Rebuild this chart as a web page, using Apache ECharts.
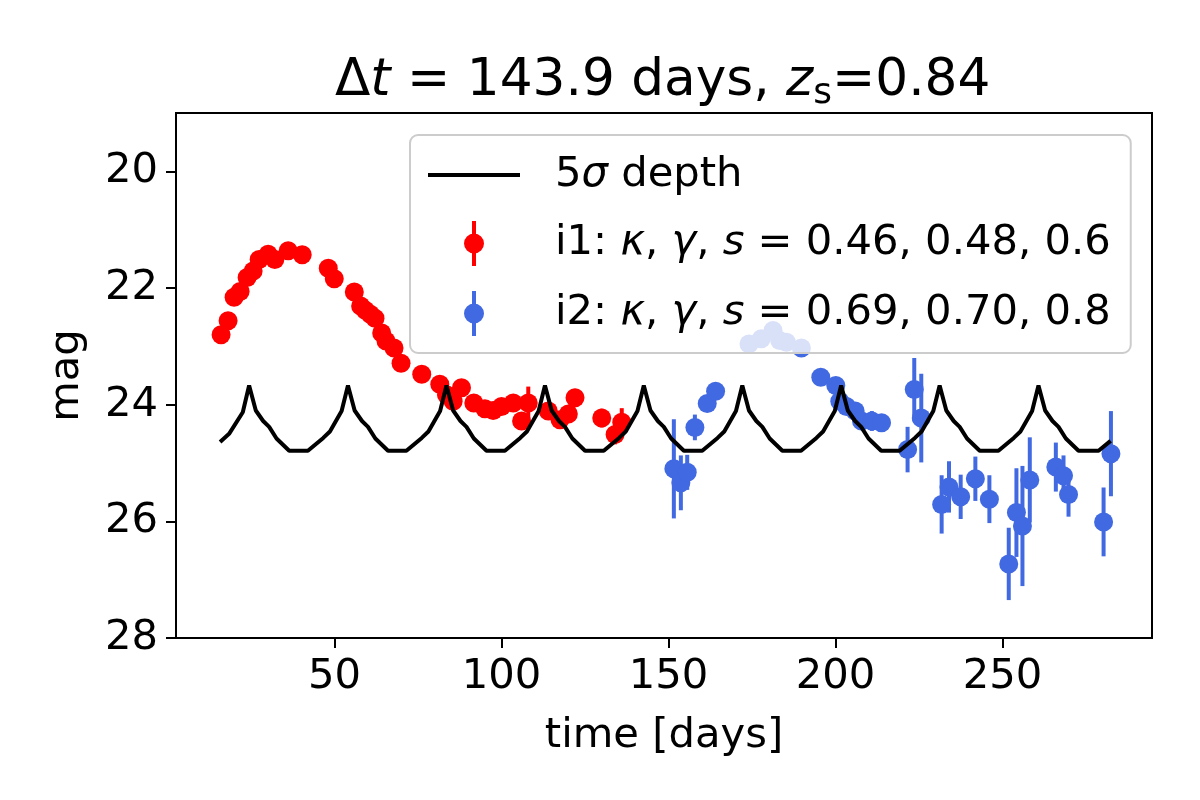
<!DOCTYPE html>
<html>
<head>
<meta charset="utf-8">
<script src="https://cdn.jsdelivr.net/npm/echarts@6/dist/echarts.min.js"></script>
<style>
  html, body { margin: 0; padding: 0; background: #fff; }
  #main { width: 1200px; height: 800px; }
</style>
</head>
<body>
<div id="main"></div>
<script>
// image 1 (red)
var t1 = [16.0, 18.1, 19.9, 21.7, 23.8, 25.6, 27.4, 30.1, 32.1, 36.1, 40.3, 48.1, 49.9,
  55.9, 57.8, 59.2, 60.7, 62.1, 64.1, 65.4, 67.8, 69.9, 76.1, 81.5, 83.5, 85.5, 88.0,
  91.7, 95.0, 97.5, 100.0, 103.5, 106.0, 108.0, 114.0, 117.5, 120.0, 122.0, 130.0, 134.0, 136.0];
var mag1 = [22.80, 22.56, 22.16, 22.06, 21.82, 21.71, 21.51, 21.42, 21.51, 21.36, 21.43, 21.66, 21.84,
  22.07, 22.31, 22.38, 22.45, 22.52, 22.77, 22.91, 23.03, 23.29, 23.48, 23.65, 23.83, 23.94, 23.71,
  23.97, 24.07, 24.10, 24.03, 23.97, 24.28, 23.97, 24.11, 24.26, 24.16, 23.88, 24.23, 24.51, 24.30];
var err1 = [0.03, 0.03, 0.03, 0.03, 0.03, 0.03, 0.03, 0.03, 0.03, 0.03, 0.03, 0.04, 0.04,
  0.05, 0.05, 0.05, 0.05, 0.05, 0.06, 0.06, 0.06, 0.07, 0.07, 0.08, 0.08, 0.09, 0.09,
  0.10, 0.10, 0.11, 0.11, 0.12, 0.13, 0.28, 0.14, 0.15, 0.15, 0.15, 0.16, 0.17, 0.24];

// image 2 (blue)
var t2 = [151.6, 153.7, 155.6, 157.9, 161.6, 164.1, 174.1, 177.8, 181.3, 183.3, 185.3, 189.8,
  195.6, 200.1, 201.3, 203.3, 205.9, 207.8, 210.9, 213.8, 221.6, 223.6, 225.7, 231.8, 234.0,
  237.5, 241.9, 246.1, 251.9, 254.2, 256.0, 258.2, 266.0, 268.3, 269.8, 280.3, 282.5];
var mag2 = [25.10, 25.34, 25.16, 24.39, 23.98, 23.77, 22.96, 22.87, 22.73, 22.90, 22.93, 23.03,
  23.53, 23.67, 23.94, 24.03, 24.11, 24.28, 24.28, 24.31, 24.77, 23.74, 24.23, 25.71, 25.41,
  25.58, 25.27, 25.62, 26.73, 25.85, 26.08, 25.29, 25.07, 25.22, 25.54, 26.01, 24.84];
var err2 = [0.85, 0.47, 0.30, 0.22, 0.08, 0.08, 0.05, 0.05, 0.05, 0.05, 0.05, 0.06,
  0.07, 0.08, 0.08, 0.09, 0.10, 0.11, 0.17, 0.12, 0.39, 0.54, 0.76, 0.50, 0.44,
  0.38, 0.38, 0.41, 0.62, 0.76, 1.03, 0.73, 0.42, 0.35, 0.38, 0.59, 0.73];

// 5 sigma depth
var depthT = [15.7, 18.4, 22.5,
  24.4, 26.4, 28.6, 30.4, 32.6, 36.4, 42.0, 46.6, 48.6, 52.1,
  54.0, 56.0, 58.2, 60.0, 62.2, 66.0, 71.5, 76.1, 78.1, 81.6,
  83.5, 85.5, 87.7, 89.5, 91.7, 95.5, 101.0, 105.6, 107.6, 111.1,
  113.0, 115.0, 117.2, 119.0, 121.2, 125.0, 130.6, 135.2, 137.2, 140.7,
  142.6, 144.6, 146.8, 148.6, 150.8, 154.6, 160.1, 164.7, 166.7, 170.2,
  172.1, 174.1, 176.3, 178.1, 180.3, 184.1, 189.7, 194.3, 196.3, 199.8,
  201.7, 203.7, 205.9, 207.7, 209.9, 213.7, 219.2, 223.8, 225.8, 229.3,
  231.2, 233.2, 235.4, 237.2, 239.4, 243.2, 248.8, 253.4, 255.4, 258.9,
  260.8, 262.8, 265.0, 266.8, 269.0, 272.8, 278.8, 282.4];
var depthMag = [24.64, 24.50, 24.13,
  23.67, 24.10, 24.28, 24.38, 24.58, 24.79, 24.79, 24.57, 24.46, 24.11,
  23.67, 24.10, 24.28, 24.38, 24.58, 24.79, 24.79, 24.57, 24.46, 24.11,
  23.67, 24.10, 24.28, 24.38, 24.58, 24.79, 24.79, 24.57, 24.46, 24.11,
  23.67, 24.10, 24.28, 24.38, 24.58, 24.79, 24.79, 24.57, 24.46, 24.11,
  23.67, 24.10, 24.28, 24.38, 24.58, 24.79, 24.79, 24.57, 24.46, 24.11,
  23.67, 24.10, 24.28, 24.38, 24.58, 24.79, 24.79, 24.57, 24.46, 24.11,
  23.67, 24.10, 24.28, 24.38, 24.58, 24.79, 24.79, 24.57, 24.46, 24.11,
  23.67, 24.10, 24.28, 24.38, 24.58, 24.79, 24.79, 24.57, 24.46, 24.11,
  23.67, 24.10, 24.28, 24.38, 24.58, 24.79, 24.79, 24.62];

var xTicks = [50, 100, 150, 200, 250];
var yTicks = [20, 22, 24, 26, 28];

var FONT = "DejaVu Sans";
var FS = 41.7;
var TFS = 51.7;
var RED = "#ff0000";
var BLUE = "#4169e1";
var errIcon = "path://M8,0H12V45H8Z M0,22.5A10,10 0 1,1 20,22.5A10,10 0 1,1 0,22.5Z";

function pairs(t, m) {
  return t.map(function (v, i) { return [v, m[i]]; });
}
function bars(t, m, e) {
  return t.map(function (v, i) { return [v, m[i] - e[i], m[i] + e[i]]; });
}
function errorSeries(name, t, m, e, color) {
  return {
    name: name,
    type: "custom",
    silent: true,
    clip: true,
    data: bars(t, m, e),
    encode: { x: 0, y: [1, 2] },
    renderItem: function (params, api) {
      var p1 = api.coord([api.value(0), api.value(1)]);
      var p2 = api.coord([api.value(0), api.value(2)]);
      return {
        type: "line",
        shape: { x1: p1[0], y1: p1[1], x2: p2[0], y2: p2[1] },
        style: { stroke: color, lineWidth: 4 }
      };
    }
  };
}

var myChart = echarts.init(document.getElementById("main"));
myChart.setOption({
  animation: false,
  backgroundColor: "#fff",
  textStyle: { fontFamily: FONT },
  title: {
    text: "{n|Δ}{it|t}{n| = 143.9 days, }{it|z}{sub|s}{n|=0.84}",
    left: 330,
    top: 47,
    textStyle: {
      fontFamily: FONT,
      fontWeight: "normal",
      rich: {
        n: { fontFamily: FONT, fontSize: TFS, fontWeight: "normal", color: "#000", lineHeight: 60 },
        it: { fontFamily: FONT, fontSize: TFS, fontWeight: "normal", fontStyle: "italic", color: "#000", lineHeight: 60 },
        sub: { fontFamily: FONT, fontSize: 36, fontWeight: "normal", color: "#000", lineHeight: 36, verticalAlign: "bottom" }
      }
    }
  },
  legend: {
    orient: "vertical",
    left: 410,
    top: 135,
    padding: [19, 20, 17, 18],
    itemWidth: 92,
    itemHeight: 45,
    itemGap: 25,
    selectedMode: false,
    backgroundColor: "rgba(255,255,255,0.8)",
    borderColor: "#cccccc",
    borderWidth: 2,
    borderRadius: 8,
    textStyle: {
      fontFamily: FONT,
      fontSize: FS,
      color: "#000",
      padding: [0, 0, 0, 30],
      rich: {
        n: { fontFamily: FONT, fontSize: FS, color: "#000" },
        it: { fontFamily: FONT, fontSize: FS, fontStyle: "italic", color: "#000" }
      }
    },
    formatter: function (name) {
      if (name === "depth") return "{n|5}{it|σ}{n| depth}";
      if (name === "i1") return "{n|i1: }{it|κ}{n|, }{it|γ}{n|, }{it|s}{n| = 0.46, 0.48, 0.6}";
      return "{n|i2: }{it|κ}{n|, }{it|γ}{n|, }{it|s}{n| = 0.69, 0.70, 0.8}";
    },
    data: [
      { name: "depth", icon: "path://M0,0H92V4H0Z", itemStyle: { color: "#000" } },
      { name: "i1", icon: errIcon, itemStyle: { color: RED } },
      { name: "i2", icon: errIcon, itemStyle: { color: BLUE } }
    ]
  },
  grid: {
    left: 176,
    right: 48,
    top: 113,
    bottom: 162,
    show: true,
    borderColor: "#000",
    borderWidth: 2,
    backgroundColor: "transparent"
  },
  xAxis: {
    type: "value",
    min: 2.5,
    max: 294.8,
    name: "time [days]",
    nameLocation: "middle",
    nameGap: 77,
    nameTextStyle: { fontFamily: FONT, fontSize: FS, color: "#000" },
    axisLine: { show: true, lineStyle: { color: "#000", width: 2 } },
    axisTick: { show: true, length: 10, lineStyle: { color: "#000", width: 2 }, customValues: xTicks },
    axisLabel: { fontFamily: FONT, fontSize: FS, color: "#000", margin: 18, customValues: xTicks },
    splitLine: { show: false }
  },
  yAxis: {
    type: "value",
    inverse: true,
    min: 19.0,
    max: 28.0,
    name: "mag",
    nameLocation: "middle",
    nameGap: 88,
    nameRotate: 90,
    nameTextStyle: { fontFamily: FONT, fontSize: FS, color: "#000" },
    axisLine: { show: true, lineStyle: { color: "#000", width: 2 } },
    axisTick: { show: true, length: 10, lineStyle: { color: "#000", width: 2 }, customValues: yTicks },
    axisLabel: { fontFamily: FONT, fontSize: FS, color: "#000", margin: 18, customValues: yTicks },
    splitLine: { show: false }
  },
  series: [
    {
      name: "depth",
      type: "line",
      data: pairs(depthT, depthMag),
      showSymbol: false,
      silent: true,
      itemStyle: { color: "#000" },
      lineStyle: { color: "#000", width: 4 }
    },
    errorSeries("i1 err", t1, mag1, err1, RED),
    {
      name: "i1",
      type: "scatter",
      data: pairs(t1, mag1),
      symbolSize: 19,
      silent: true,
      itemStyle: { color: RED, opacity: 1 }
    },
    errorSeries("i2 err", t2, mag2, err2, BLUE),
    {
      name: "i2",
      type: "scatter",
      data: pairs(t2, mag2),
      symbolSize: 19,
      silent: true,
      itemStyle: { color: BLUE, opacity: 1 }
    }
  ]
});
</script>
</body>
</html>
